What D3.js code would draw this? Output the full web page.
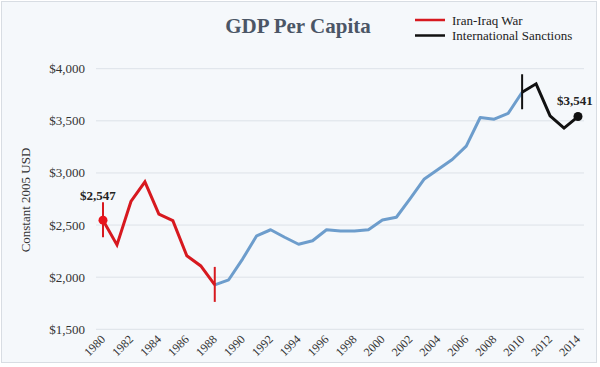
<!DOCTYPE html>
<html>
<head>
<meta charset="utf-8">
<style>
  body { margin: 0; background: #fff; }
  svg { display: block; font-family: 'Liberation Serif', 'Times New Roman', serif; }
</style>
</head>
<body>
<svg width="600" height="367"></svg>
<script src="https://d3js.org/d3.v7.min.js"></script>
<script>
// GDP per capita, constant 2005 USD
const warYears = [1980, 1981, 1982, 1983, 1984, 1985, 1986, 1987, 1988]
const warValues = [2547, 2310, 2726, 2915, 2605, 2543, 2205, 2108, 1926]

const midYears = [1988, 1989, 1990, 1991, 1992, 1993, 1994, 1995, 1996, 1997, 1998, 1999,
  2000, 2001, 2002, 2003, 2004, 2005, 2006, 2007, 2008, 2009, 2010]
const midValues = [1926, 1975, 2176, 2397, 2455, 2383, 2316, 2349, 2455, 2442, 2443, 2455,
  2548, 2575, 2755, 2942, 3035, 3129, 3258, 3532, 3516, 3571, 3774]

const sanctionYears = [2010, 2011, 2012, 2013, 2014]
const sanctionValues = [3774, 3855, 3548, 3430, 3541]

const yTicks = [1500, 2000, 2500, 3000, 3500, 4000]
const xTicks = d3.range(1980, 2015, 2)

const legendLabels = ["Iran-Iraq War", "International Sanctions"]
const legendColors = ["#d7191f", "#111"]

let svg = d3.select("svg")

svg.append("rect")
  .attr("x", 1.5).attr("y", 1.5)
  .attr("width", 595).attr("height", 361)
  .attr("fill", "#f5f8fb")
  .attr("stroke", "#d8dde3")

let x = d3.scaleLinear().domain([1980, 2014]).range([103, 578])
let y = d3.scaleLinear().domain([1500, 4000]).range([329.3, 68.7])

// grid
svg.append("g")
  .selectAll("line")
  .data(yTicks)
  .join("line")
  .attr("x1", 96).attr("x2", 584)
  .attr("y1", d => y(d)).attr("y2", d => y(d))
  .attr("stroke", "#dde2e8")
  .attr("stroke-width", 1)

// y tick labels
svg.append("g")
  .selectAll("text")
  .data(yTicks)
  .join("text")
  .attr("x", 85)
  .attr("y", d => y(d) + 4.5)
  .attr("text-anchor", "end")
  .attr("font-size", 13)
  .attr("fill", "#333")
  .text(d => d3.format("$,")(d))

// x tick labels
svg.append("g")
  .selectAll("text")
  .data(xTicks)
  .join("text")
  .attr("text-anchor", "end")
  .attr("font-size", 12)
  .attr("fill", "#333")
  .attr("transform", d => `translate(${x(d) + 3},${340}) rotate(-45)`)
  .text(d => d)

// y axis title
svg.append("text")
  .attr("transform", "translate(30,200) rotate(-90)")
  .attr("text-anchor", "middle")
  .attr("font-size", 13)
  .attr("fill", "#333")
  .text("Constant 2005 USD")

// title
svg.append("text")
  .attr("x", 298).attr("y", 33)
  .attr("text-anchor", "middle")
  .attr("font-size", 21)
  .attr("font-weight", "bold")
  .attr("fill", "#4b5666")
  .text("GDP Per Capita")

let line = d3.line().x(d => x(d[0])).y(d => y(d[1]))

svg.append("path")
  .datum(d3.zip(midYears, midValues))
  .attr("d", line)
  .attr("fill", "none")
  .attr("stroke", "#6d9dcc")
  .attr("stroke-width", 3)
  .attr("stroke-linejoin", "round")

svg.append("path")
  .datum(d3.zip(warYears, warValues))
  .attr("d", line)
  .attr("fill", "none")
  .attr("stroke", "#d7191f")
  .attr("stroke-width", 3)

svg.append("path")
  .datum(d3.zip(sanctionYears, sanctionValues))
  .attr("d", line)
  .attr("fill", "none")
  .attr("stroke", "#111")
  .attr("stroke-width", 3)

// period markers
let markers = [
  [warYears[0], warValues[0], "#d7191f"],
  [warYears[warYears.length - 1], warValues[warValues.length - 1], "#d7191f"],
  [sanctionYears[0], sanctionValues[0], "#111"]
]
svg.append("g")
  .selectAll("line")
  .data(markers)
  .join("line")
  .attr("x1", d => x(d[0])).attr("x2", d => x(d[0]))
  .attr("y1", d => y(d[1]) - 18).attr("y2", d => y(d[1]) + 17)
  .attr("stroke", d => d[2])
  .attr("stroke-width", 2)

// end points
let ends = [
  [warYears[0], warValues[0], "#e8141c", -23, -20],
  [sanctionYears[sanctionYears.length - 1], sanctionValues[sanctionValues.length - 1], "#111", -21, -12]
]
svg.append("g")
  .selectAll("circle")
  .data(ends)
  .join("circle")
  .attr("cx", d => x(d[0]))
  .attr("cy", d => y(d[1]))
  .attr("r", 4.5)
  .attr("fill", d => d[2])

svg.append("g")
  .selectAll("text")
  .data(ends)
  .join("text")
  .attr("x", d => x(d[0]) + d[3])
  .attr("y", d => y(d[1]) + d[4])
  .attr("font-size", 13)
  .attr("font-weight", "bold")
  .attr("fill", "#222")
  .text(d => d3.format("$,")(d[1]))

// legend
let legend = svg.append("g")
  .selectAll("g")
  .data(legendLabels)
  .join("g")
  .attr("transform", (d, i) => `translate(415,${20 + i * 15.5})`)

legend.append("line")
  .attr("x1", 0).attr("x2", 30)
  .attr("stroke", (d, i) => legendColors[i])
  .attr("stroke-width", 2.5)

legend.append("text")
  .attr("x", 37).attr("y", 4.5)
  .attr("font-size", 13)
  .attr("fill", "#222")
  .text(d => d)
</script>
</body>
</html>
